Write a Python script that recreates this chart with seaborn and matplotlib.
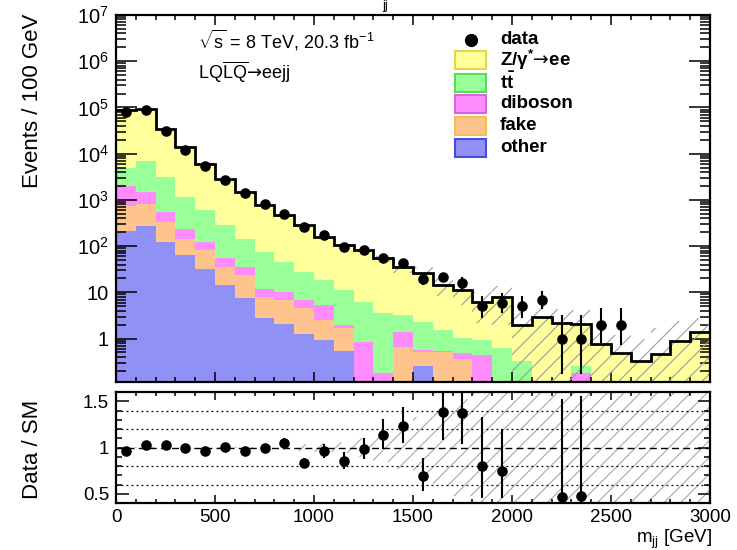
import numpy as np
import pandas as pd
import matplotlib
matplotlib.use("Agg")
import matplotlib.pyplot as plt
import seaborn as sns
from matplotlib.patches import Rectangle
from matplotlib.lines import Line2D
from matplotlib.ticker import MultipleLocator, LogLocator, NullFormatter

# ---------------- data ----------------
bin_edges = list(range(0, 3001, 100))          # m_jj bins [GeV]

z_ee = [81100, 83750, 31520, 12750, 5484, 2598, 1334, 689, 419, 254,
        140, 93.9, 75.8, 50.4, 31.3, 24.0, 12.8, 10.2, 5.27, 7.38,
        1.64, 2.96, 2.19, 1.79, 0.76, 0.48, 0.32, 0.46, 0.88, 1.36]
ttbar = [2950, 5370, 2630, 910, 473, 228, 110, 63, 35.4, 20.9,
         13.0, 9.1, 5.35, 3.42, 1.8, 1.74, 1.0, 0.52, 0.49, 0.62,
         0.32, 0, 0, 0.07, 0, 0, 0, 0, 0, 0]
diboson = [1230, 670, 216, 94, 41.5, 18.5, 12, 4.1, 3.4, 2.3,
           2.8, 0.30, 0.85, 0.18, 0.74, 0.04, 0.01, 0.13, 0.44, 0,
           0, 0, 0, 0.18, 0, 0, 0, 0, 0, 0]
fake = [505, 532, 210, 82, 48.7, 21.2, 16.1, 5.2, 4.7, 3.3,
        1.57, 1.12, 0, 0, 0.66, 0.27, 0.52, 0.36, 0, 0,
        0, 0, 0, 0, 0, 0, 0, 0, 0, 0]
other = [215, 278, 123, 64, 32.8, 14.3, 7.4, 2.8, 2.1, 1.23,
         0.93, 0.54, 0, 0, 0, 0.25, 0, 0, 0, 0,
         0, 0, 0, 0, 0, 0, 0, 0, 0, 0]

data_obs = [78000, 88000, 31000, 12300, 5400, 2750, 1420, 800, 500, 258,
            170, 96, 84, 56, 44, 19, 21, 16, 5, 6,
            5, 7, 1, 1, 2, 2, np.nan, np.nan, np.nan, np.nan]

ratio_obs = [0.957, 1.029, 1.022, 0.993, 0.957, 1.004, 0.957, 0.993, 1.054, 0.83,
             0.962, 0.855, 0.98, 1.135, 1.228, 0.688, 1.38, 1.373, 0.797, 0.75,
             np.nan, np.nan, 0.463, 0.474, np.nan, np.nan, np.nan, np.nan, np.nan, np.nan]

rel_unc = [0.01, 0.01, 0.01, 0.01, 0.01, 0.01, 0.01, 0.015, 0.025, 0.035,
           0.045, 0.06, 0.10, 0.16, 0.235, 0.33, 0.42, 0.52, 0.65, 0.75,
           0.95, 1.0, 1.0, 1.0, 1.2, 1.5, 2.0, 2.6, 1.7, 1.05]

process_names = ["Z/γ*→ee", "tt", "diboson", "fake", "other"]
process_labels = [r"Z/γ$^{\mathbf{*}}$$\mathsf{→}$ee", r"$\mathbf{t\bar{t}}$",
                  "diboson", "fake", "other"]
fill_colors = ["#FFFF9C", "#99FF99", "#FF8CFF", "#FFC48E", "#9090F6"]
edge_colors = ["#E6D84A", "#55DD55", "#E060E0", "#F0C24A", "#4A4AE0"]

y_tick_vals = [1, 10, 1e2, 1e3, 1e4, 1e5, 1e6, 1e7]
y_tick_labels = ["1", "10", r"$10^{2}$", r"$10^{3}$", r"$10^{4}$", r"$10^{5}$", r"$10^{6}$", r"$10^{7}$"]

# ---------------- style ----------------
plt.rcParams.update({
    "font.family": ["Liberation Sans", "DejaVu Sans"],
    "mathtext.fontset": "custom",
    "mathtext.rm": "Liberation Sans",
    "mathtext.it": "Liberation Sans:italic",
    "mathtext.bf": "Liberation Sans:bold",
    "mathtext.sf": "DejaVu Sans",
    "mathtext.fallback": "cm",
    "hatch.linewidth": 0.8,
    "axes.linewidth": 1.6,
})

W, H = 737, 550
fig = plt.figure(figsize=(W / 100, H / 100), dpi=100)
px = lambda x: x / W
py = lambda y: 1 - y / H

ax1 = fig.add_axes([px(116), py(382), (710 - 116) / W, (382 - 15) / H])
ax2 = fig.add_axes([px(116), py(503), (710 - 116) / W, (503 - 392) / H])

edges = np.array(bin_edges, dtype=float)
centers = 0.5 * (edges[:-1] + edges[1:])
nb = len(centers)

comps = [np.array(z_ee), np.array(ttbar), np.array(diboson), np.array(fake), np.array(other)]
total = np.sum(comps, axis=0)

df = pd.DataFrame({
    "mjj": np.tile(centers, len(process_names)),
    "events": np.concatenate(comps),
    "process": np.repeat(process_names, nb),
})

# stacked backgrounds (first hue level ends on top)
sns.histplot(data=df, x="mjj", weights="events", hue="process",
             hue_order=process_names, bins=nb, binrange=(edges[0], edges[-1]),
             multiple="stack", element="step", fill=True, alpha=1, linewidth=0,
             palette=dict(zip(process_names, fill_colors)),
             legend=False, ax=ax1, zorder=1)
ax1.set_yscale("log")

# uncertainty band (hatched)
unc = np.array(rel_unc)
band_lo = np.clip(total * (1 - unc), 1e-3, None)
band_hi = total * (1 + unc)
ax1.fill_between(edges, np.r_[band_lo, band_lo[-1]], np.r_[band_hi, band_hi[-1]],
                 step="post", facecolor="none", edgecolor="#9c9c9c",
                 hatch="//", linewidth=0, zorder=2)

# total SM line
ax1.stairs(total, edges, baseline=None, color="black", linewidth=2.0, zorder=3)

# data with Poisson (Garwood approx) errors
def poisson_interval(n):
    n = np.asarray(n, dtype=float)
    lo = n * (1 - 1 / (9 * n) - 1 / (3 * np.sqrt(n))) ** 3
    hi = (n + 1) * (1 - 1 / (9 * (n + 1)) + 1 / (3 * np.sqrt(n + 1))) ** 3
    return lo, hi

dobs = np.array(data_obs, dtype=float)
m = ~np.isnan(dobs)
dlo, dhi = poisson_interval(dobs[m])
ax1.vlines(centers[m], dlo, dhi, color="black", linewidth=1.5, zorder=4)
sns.scatterplot(x=centers[m], y=dobs[m], color="black", s=58, linewidth=0,
                ax=ax1, zorder=5, legend=False)

ax1.set_xlim(0, 3000)
ax1.set_ylim(0.115, 1e7)
ax1.set_xlabel("")
ax1.set_ylabel("")
ax1.set_yticks(y_tick_vals)
ax1.set_yticklabels(y_tick_labels)
ax1.yaxis.set_minor_locator(LogLocator(base=10, subs=np.arange(2, 10), numticks=20))
ax1.yaxis.set_minor_formatter(NullFormatter())
ax1.xaxis.set_major_locator(MultipleLocator(500))
ax1.xaxis.set_minor_locator(MultipleLocator(100))
ax1.tick_params(which="both", direction="in", top=True, right=True,
                labelbottom=False, width=1.1, color="black")
ax1.tick_params(axis="y", which="major", length=15, labelsize=14.5, pad=5)
ax1.tick_params(axis="y", which="minor", length=7.5)
ax1.tick_params(axis="x", which="major", length=7)
ax1.tick_params(axis="x", which="minor", length=3.5)

# ---------------- ratio panel ----------------
ax2.fill_between(edges, np.r_[1 - unc, 1 - unc[-1]], np.r_[1 + unc, 1 + unc[-1]],
                 step="post", facecolor="none", edgecolor="#a8a8a8",
                 hatch="//", linewidth=0, zorder=1)
for yv in [0.6, 0.8, 1.2, 1.4]:
    ax2.axhline(yv, color="black", linewidth=0.9, linestyle=(0, (1.5, 2.5)), zorder=2)
ax2.axhline(1.0, color="black", linewidth=1.0, linestyle=(0, (5, 3)), zorder=2)

rat = np.array(ratio_obs, dtype=float)
mr = ~np.isnan(rat)
nr = dobs[mr]
rlo, rhi = poisson_interval(nr)
ax2.vlines(centers[mr], rat[mr] * rlo / nr, rat[mr] * rhi / nr,
           color="black", linewidth=1.5, zorder=4)
sns.scatterplot(x=centers[mr], y=rat[mr], color="black", s=58, linewidth=0,
                ax=ax2, zorder=5, legend=False)

ax2.set_xlim(0, 3000)
ax2.set_ylim(0.4, 1.6)
ax2.set_xlabel("")
ax2.set_ylabel("")
ax2.set_yticks([0.5, 1.0, 1.5])
ax2.set_yticklabels(["0.5", "1", "1.5"])
ax2.yaxis.set_minor_locator(MultipleLocator(0.1))
ax2.set_xticks(range(0, 3001, 500))
ax2.set_xticklabels([str(v) for v in range(0, 3001, 500)])
ax2.xaxis.set_minor_locator(MultipleLocator(100))
ax2.tick_params(which="both", direction="in", top=True, right=True,
                width=1.1, color="black", labelsize=13.5)
ax2.tick_params(axis="y", which="major", length=9, pad=5)
ax2.tick_params(axis="y", which="minor", length=4.5)
ax2.tick_params(axis="x", which="major", length=6, pad=4)
ax2.tick_params(axis="x", which="minor", length=3)

# ---------------- texts ----------------
fig.text(px(33), py(14), "Events / 100 GeV", rotation=90, ha="center", va="top", fontsize=16)
fig.text(px(33), py(449), "Data / SM", rotation=90, ha="center", va="center", fontsize=16)
fig.text(px(712), py(539), r"m$_{\mathrm{jj}}$ [GeV]", ha="right", va="center", fontsize=13.5)
fig.text(px(198), py(40), r"$\sqrt{\mathrm{s}}$ = 8 TeV, 20.3 fb$^{-1}$", ha="left", va="center", fontsize=13)
fig.text(px(198), py(72), r"LQ$\overline{\mathrm{LQ}}$$\mathsf{→}$eejj", ha="left", va="center", fontsize=13)
fig.text(px(385), py(0), "jj", ha="center", va="top", fontsize=9)

# ---------------- legend (drawn by hand, ROOT style) ----------------
row_y = [40, 60, 82.5, 104, 125.5, 147.5]
fig.add_artist(Line2D([px(471)], [py(row_y[0])], marker="o", color="black",
                      markersize=8.5, linestyle="none", transform=fig.transFigure))
fig.text(px(500), py(row_y[0]), "data", ha="left", va="center",
         fontsize=13.5, fontweight="bold")
for i, (lab, fc, ec) in enumerate(zip(process_labels, fill_colors, edge_colors)):
    yc = row_y[i + 1]
    fig.add_artist(Rectangle((px(455), py(yc + 9)), 31 / W, 18 / H,
                             facecolor=fc, edgecolor=ec, linewidth=1.5,
                             transform=fig.transFigure))
    fig.text(px(500), py(yc), lab, ha="left", va="center",
             fontsize=13.5, fontweight="bold")

fig.savefig("out.png", dpi=100)
